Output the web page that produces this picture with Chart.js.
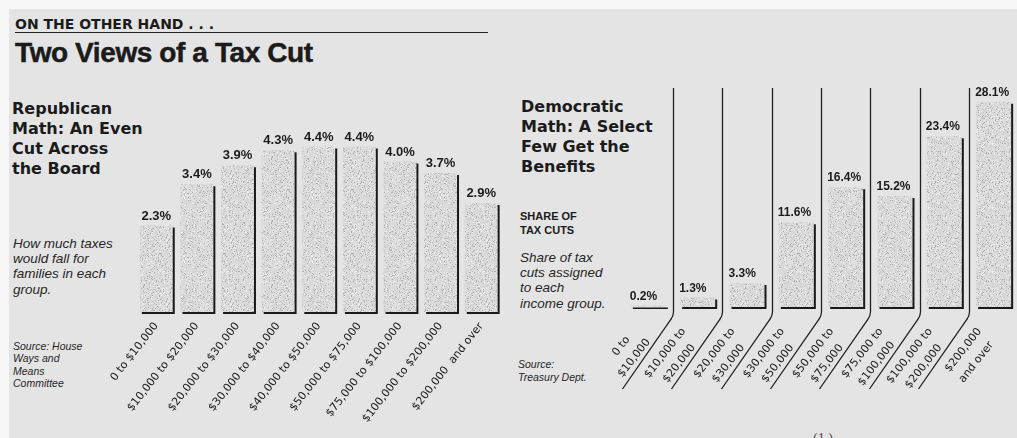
<!DOCTYPE html>
<html>
<head>
<meta charset="utf-8">
<script src="https://cdn.jsdelivr.net/npm/chart.js@4.4.1/dist/chart.umd.min.js"></script>
<style>
  html, body { margin: 0; padding: 0; width: 1017px; height: 438px; overflow: hidden; background: #f7f7f7; position: relative; }
  #paper { position: absolute; left: 9px; top: 9px; width: 1008px; height: 429px; background: #e4e4e4; }
  .t { position: absolute; color: #1b1b1b; white-space: nowrap; }
  .kicker { left: 15px; top: 15.5px; font: bold 14px/16px "DejaVu Sans", sans-serif; }
  .rule { position: absolute; left: 15px; top: 31.5px; width: 473px; height: 1.6px; background: #222; }
  .title { left: 15px; top: 38px; font: bold 28px/30px "Liberation Sans", Arial, sans-serif; letter-spacing: -0.4px; -webkit-text-stroke: 0.5px #1b1b1b; }
  .head { font: bold 16px/20px "DejaVu Sans", sans-serif; }
  .note { font: italic 13.5px/15.4px "Liberation Sans", Arial, sans-serif; color: #262626; }
  .tag { font: bold 11px/14px "Liberation Sans", Arial, sans-serif; }
  .src { font: italic 10.5px/12.3px "Liberation Sans", Arial, sans-serif; color: #262626; }
  canvas { position: absolute; top: 0; }
</style>
</head>
<body>
<div id="paper"></div>

<div class="t kicker">ON THE OTHER HAND . . .</div>
<div class="rule"></div>
<div class="t title">Two Views of a Tax Cut</div>

<div class="t head" style="left:12px; top:98.5px;">Republican<br>Math: An Even<br>Cut Across<br>the Board</div>
<div class="t note" style="left:13px; top:235.6px;">How much taxes<br>would fall for<br>families in each<br>group.</div>
<div class="t src" style="left:13px; top:340.2px;">Source: House<br>Ways and<br>Means<br>Committee</div>

<div class="t head" style="left:521px; top:96.5px;">Democratic<br>Math: A Select<br>Few Get the<br>Benefits</div>
<div class="t tag" style="left:520px; top:209.2px;">SHARE OF<br>TAX CUTS</div>
<div class="t note" style="left:520px; top:249.6px;">Share of tax<br>cuts assigned<br>to each<br>income group.</div>
<div class="t src" style="left:518px; top:358px; line-height:13px;">Source:<br>Treasury Dept.</div>

<div class="t" style="left:813px; top:431px; font: 14px 'Liberation Serif', serif; color:#444;">(1.)</div>

<canvas id="gopChart" width="510" height="438" style="left:0"></canvas>
<canvas id="demChart" width="560" height="438" style="left:510px"></canvas>

<script>
// Republican version: tax cut as a percent of taxes, by income group
const gopCategories = [
  "0 to $10,000", "$10,000 to $20,000", "$20,000 to $30,000", "$30,000 to $40,000",
  "$40,000 to $50,000", "$50,000 to $75,000", "$75,000 to $100,000",
  "$100,000 to $200,000", "$200,000  and over"
];
const gopValues = [2.3, 3.4, 3.9, 4.3, 4.4, 4.4, 4.0, 3.7, 2.9];

// Democratic version: share of the total tax cut going to each income group
const demCategories = [
  ["0 to", "$10,000"], ["$10,000 to", "$20,000"], ["$20,000 to", "$30,000"],
  ["$30,000 to", "$50,000"], ["$50,000 to", "$75,000"], ["$75,000 to", "$100,000"],
  ["$100,000 to", "$200,000"], ["$200,000", "and over"]
];
const demValues = [0.2, 1.3, 3.3, 11.6, 16.4, 15.2, 23.4, 28.1];

const INK = "#1b1b1b";
const TICK_FONT = '11px "DejaVu Sans"';

// Stippled newsprint fill for the bars (fixed integer hash, same every load)
function stipple() {
  const c = document.createElement("canvas");
  c.width = c.height = 64;
  const g = c.getContext("2d");
  g.fillStyle = "#d9d9d9";
  g.fillRect(0, 0, 64, 64);
  let s = 2463534242;
  const next = () => { s ^= s << 13; s ^= s >>> 17; s ^= s << 5; return s >>> 0; };
  for (let i = 0; i < 1400; i++) {
    const x = next() % 64, y = next() % 64;
    const k = i % 4;
    g.fillStyle = k === 0 ? "#afafaf" : (k === 1 ? "#c5c5c5" : "#ebebeb");
    g.fillRect(x, y, 1, 1);
  }
  return g.createPattern(c, "repeat");
}
const barFill = stipple();

// Two-line tick labels are set centred on each other: pad the shorter line
const measurer = document.createElement("canvas").getContext("2d");
measurer.font = TICK_FONT;
function centreLines(lines) {
  const widths = lines.map(s => measurer.measureText(s).width);
  const widest = Math.max(...widths);
  const space = measurer.measureText(" ").width;
  return lines.map((s, i) => s + " ".repeat(Math.round((widest - widths[i]) / 2 / space)));
}

// Rules between the groups that bend down-left into the label area
const dividers = {
  id: "dividers",
  beforeDatasetsDraw(chart) {
    const xs = chart.scales.x, ys = chart.scales.y, ctx = chart.ctx;
    const base = ys.getPixelForValue(0);
    ctx.save();
    ctx.strokeStyle = "#202020";
    ctx.lineWidth = 1.3;
    for (let i = 1; i < chart.data.labels.length; i++) {
      const x = Math.round((xs.getPixelForValue(i - 1) + xs.getPixelForValue(i)) / 2) + 0.5;
      ctx.beginPath();
      ctx.moveTo(x, chart.chartArea.top);
      ctx.lineTo(x, base + 5);
      ctx.quadraticCurveTo(x, base + 9, x - 3, base + 13);
      ctx.lineTo(x - 51, base + 82);
      ctx.stroke();
    }
    ctx.restore();
  }
};

// Dark offset edge under each bar, then the value printed above it
function barDecor(opts) {
  return {
    id: "barDecor",
    beforeDatasetsDraw(chart) {
      const ctx = chart.ctx;
      ctx.save();
      ctx.shadowColor = "#1a1a1a";
      ctx.shadowOffsetX = 2;
      ctx.shadowOffsetY = 2;
      ctx.shadowBlur = 0;
    },
    afterDatasetsDraw(chart) {
      const ctx = chart.ctx;
      ctx.restore();
      ctx.save();
      ctx.fillStyle = INK;
      ctx.font = opts.font;
      ctx.textBaseline = "alphabetic";
      ctx.textAlign = opts.align;
      const meta = chart.getDatasetMeta(0);
      const values = chart.data.datasets[0].data;
      meta.data.forEach((bar, i) => {
        const x = opts.align === "center" ? bar.x : bar.x - bar.width / 2 - 1;
        ctx.fillText(values[i].toFixed(1) + "%", x, bar.y - 6);
      });
      ctx.restore();
    }
  };
}

new Chart(document.getElementById("gopChart"), {
  type: "bar",
  data: {
    labels: gopCategories,
    datasets: [{
      data: gopValues, backgroundColor: barFill, borderWidth: 0, clip: false,
      categoryPercentage: 1, barPercentage: 0.81
    }]
  },
  options: {
    responsive: false, animation: false, events: [],
    layout: { padding: { left: 136, right: 8.5, top: 124, bottom: 0 } },
    plugins: { legend: { display: false }, tooltip: { enabled: false } },
    scales: {
      x: {
        grid: { display: false, drawTicks: false }, border: { display: false },
        ticks: { autoSkip: false, minRotation: 52, maxRotation: 52, color: INK, font: { family: "DejaVu Sans", size: 11 }, padding: 8, labelOffset: 0 },
        afterFit(scale) { scale.height = 126; }
      },
      y: { display: false, min: 0, max: 5 }
    }
  },
  plugins: [barDecor({ align: "center", font: 'bold 13px "Liberation Sans", Arial, sans-serif' })]
});

new Chart(document.getElementById("demChart"), {
  type: "bar",
  data: {
    labels: demCategories,
    datasets: [{
      data: demValues, backgroundColor: barFill, borderWidth: 0, clip: false,
      categoryPercentage: 1, barPercentage: 0.71
    }]
  },
  options: {
    responsive: false, animation: false, events: [],
    layout: { padding: { left: 113.7, right: 51.7, top: 88, bottom: 0 } },
    plugins: { legend: { display: false }, tooltip: { enabled: false } },
    scales: {
      x: {
        grid: { display: false, drawTicks: false }, border: { display: false },
        ticks: {
          autoSkip: false, minRotation: 52, maxRotation: 52, color: INK,
          font: { family: "DejaVu Sans", size: 11, lineHeight: 1.6 }, padding: 17, labelOffset: -14,
          callback(value, index) { return centreLines(demCategories[index]); }
        },
        afterFit(scale) { scale.height = 131; }
      },
      y: { display: false, min: 0, max: 30 }
    }
  },
  plugins: [dividers, barDecor({ align: "left", font: 'bold 12px "Liberation Sans", Arial, sans-serif' })]
});
</script>
</body>
</html>
